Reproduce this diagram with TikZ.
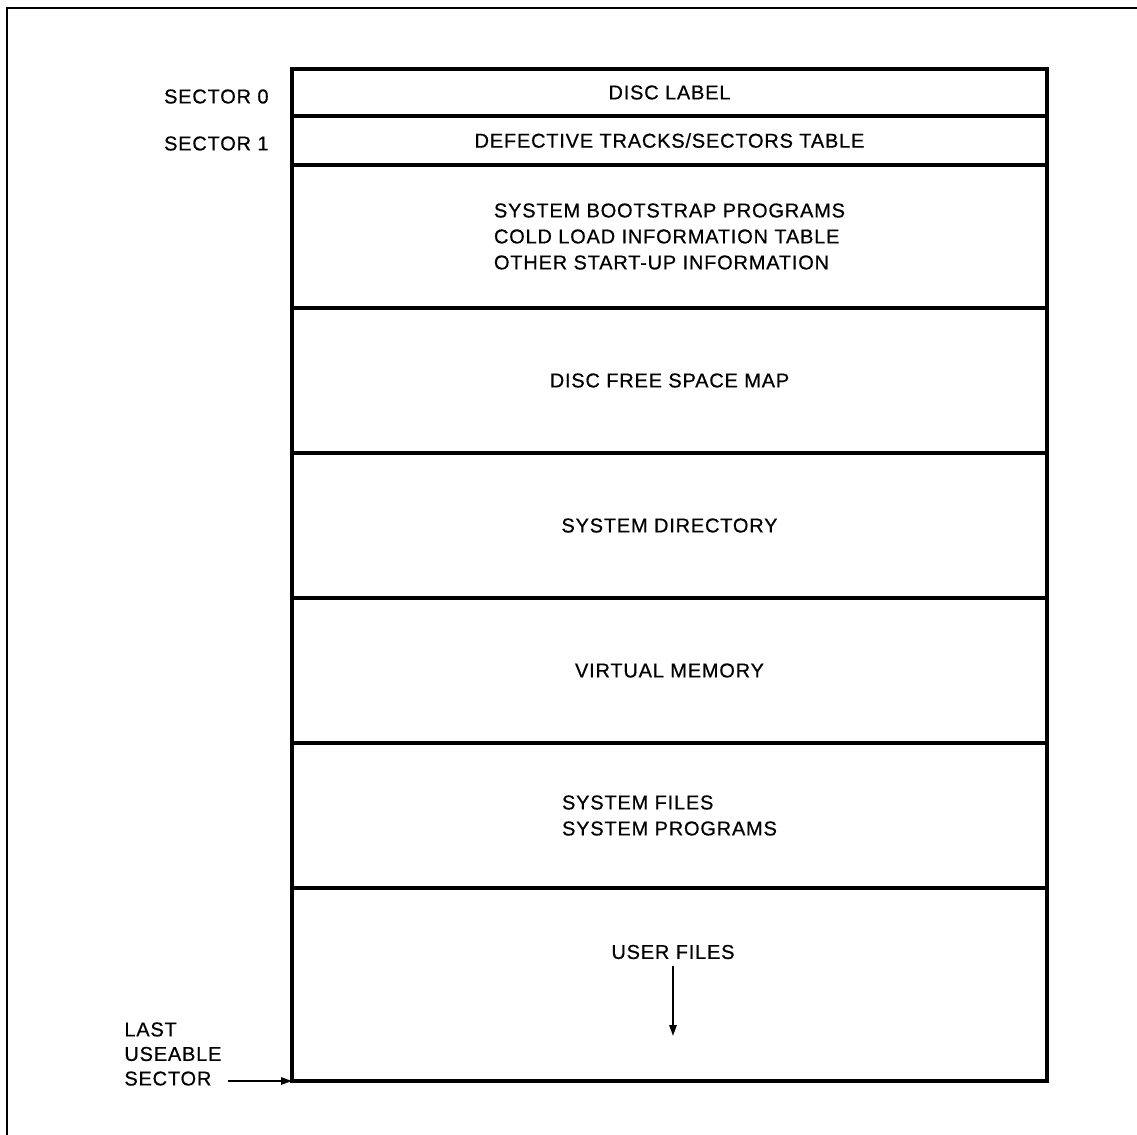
\documentclass[tikz,border=0pt]{standalone}
\usepackage{fontspec}
\setmainfont{Liberation Sans}[LetterSpace=4,FakeBold=0.6]
\usetikzlibrary{arrows.meta,positioning}
\newcommand{\pxu}{0.55pt}
\tikzset{
  slot/.style={rectangle,draw,line width=1.7pt,outer sep=0pt,inner sep=0pt,
    minimum width=755*\pxu,minimum height=#1*\pxu,align=left,
    font=\fontsize{11}{14.3}\selectfont},
  tag/.style={align=left,font=\fontsize{11}{13.5}\selectfont},
  pointer/.style={-{Triangle[length=6pt,width=4pt]},line width=1pt},
}

\begin{document}
\begin{tikzpicture}[x=\pxu,y=-\pxu]
  \useasboundingbox (0,0) rectangle (1137,1135);

  % outer frame, cut at the right and bottom
  \draw[line width=1.4pt] (7,1135) -- (7,8) -- (1137,8);

  % disc layout, top to bottom
  \node[slot=47] (row0) at (669.5,92.5) {DISC LABEL};
  \node[slot=49,below=0pt of row0] (row1) {DEFECTIVE TRACKS/SECTORS TABLE};
  \node[slot=143,below=0pt of row1] (row2)
    {SYSTEM BOOTSTRAP PROGRAMS\\COLD LOAD INFORMATION TABLE\\OTHER START-UP INFORMATION};
  \node[slot=145,below=0pt of row2] (row3) {DISC FREE SPACE MAP};
  \node[slot=145,below=0pt of row3] (row4) {SYSTEM DIRECTORY};
  \node[slot=145,below=0pt of row4] (row5) {VIRTUAL MEMORY};
  \node[slot=145,below=0pt of row5] (row6) {SYSTEM FILES\\SYSTEM PROGRAMS};
  \node[slot=193,below=0pt of row6] (row7) {};

  \node[tag,left=17*\pxu of row0,yshift=-4*\pxu] (sec0) {SECTOR 0};
  \node[tag,left=17*\pxu of row1,yshift=-3*\pxu] (sec1) {SECTOR 1};

  \node[tag] (userlbl) at (673,952) {USER FILES};
  \coordinate (userhead) at (673,1036);
  \draw[pointer] (userlbl.south) -- (userhead);

  \node[tag,anchor=west] (lastlbl) at (118,1054) {LAST\\USEABLE\\SECTOR};
  \coordinate (lasttail) at (228,1081);
  \draw[pointer] (lasttail) -- (row7.south west);
\end{tikzpicture}
\end{document}
